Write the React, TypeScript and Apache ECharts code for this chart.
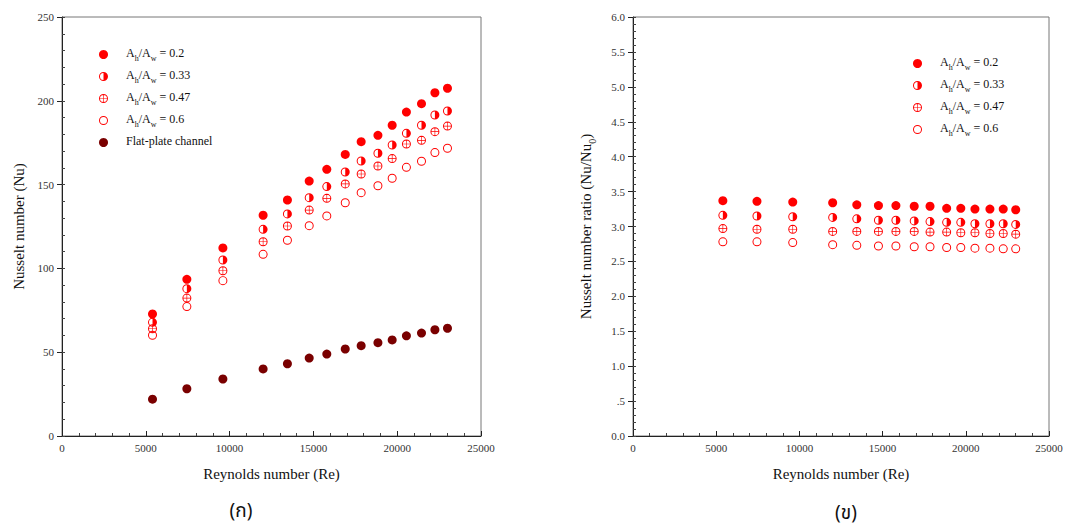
import React, { useEffect, useRef } from 'react';
import * as echarts from 'echarts';

// Reynolds numbers (shared by both panels)
const reynolds = [5400, 7450, 9600, 12000, 13450, 14750, 15800, 16900, 17850, 18850, 19700, 20550, 21450, 22250, 23000];

// Panel (ก): Nusselt number
const nu02 = [72.8, 93.5, 112.2, 131.7, 140.8, 152.1, 159.1, 168.0, 175.6, 179.4, 185.4, 193.3, 198.3, 204.8, 207.5];
const nu033 = [67.8, 87.9, 105.0, 123.3, 132.5, 142.2, 148.8, 157.5, 164.1, 168.7, 173.6, 180.6, 185.4, 191.5, 193.9];
const nu047 = [64.0, 82.3, 98.6, 115.9, 125.3, 134.8, 141.8, 150.4, 156.3, 161.1, 165.5, 174.2, 176.4, 181.6, 184.9];
const nu06 = [60.1, 77.2, 92.7, 108.4, 116.8, 125.5, 131.3, 139.2, 145.2, 149.3, 153.8, 160.3, 163.9, 169.1, 171.7];
const nuFlat = [22.0, 28.2, 34.0, 40.0, 43.1, 46.5, 48.9, 51.9, 53.9, 55.7, 57.3, 59.8, 61.4, 63.4, 64.3];

// Panel (ข): Nusselt number ratio
const r02 = [3.37, 3.36, 3.35, 3.34, 3.31, 3.30, 3.30, 3.29, 3.29, 3.26, 3.26, 3.25, 3.25, 3.25, 3.24];
const r033 = [3.16, 3.15, 3.14, 3.13, 3.11, 3.09, 3.09, 3.08, 3.07, 3.06, 3.06, 3.04, 3.04, 3.04, 3.03];
const r047 = [2.97, 2.96, 2.96, 2.93, 2.93, 2.93, 2.93, 2.93, 2.92, 2.92, 2.91, 2.91, 2.90, 2.90, 2.89];
const r06 = [2.78, 2.78, 2.77, 2.74, 2.73, 2.72, 2.72, 2.71, 2.71, 2.70, 2.70, 2.69, 2.69, 2.68, 2.68];

const ratios = ['0.2', '0.33', '0.47', '0.6'];
const flatName = 'Flat-plate channel';
const xName = 'Reynolds number (Re)';

const serif = 'Liberation Serif';
const thai = 'Noto Sans Thai, Noto Sans, DejaVu Sans, sans-serif';
const RED = '#ff0000';
const DARK = '#7a0000';

const OUTER = 'M0,10 A10,10 0 0,1 20,10 A10,10 0 0,1 0,10 Z ';
const INNER = 'M2.2,10 A7.8,7.8 0 0,0 17.8,10 A7.8,7.8 0 0,0 2.2,10 Z ';
const HALF = 'M10,2.2 A7.8,7.8 0 0,1 10,17.8 Z ';
const CROSS = 'M2.2,9.3 H17.8 V10.7 H2.2 Z M9.3,2.2 H10.7 V17.8 H9.3 Z';
const symbols = [
  'circle',
  'path://' + OUTER + INNER + HALF,
  'path://' + OUTER + INNER + CROSS,
  'path://' + OUTER + INNER,
];

const nameOf = (r: string) => 'Ah/Aw = ' + r;

const legendFormatter = (name: string) => {
  if (name === flatName) return `{a|${name}}`;
  const v = name.split('= ')[1];
  return `{a|A}{b|h}{a|/A}{b|w}{a| = ${v}}`;
};

const legendText = {
  fontFamily: serif,
  fontSize: 12,
  color: '#111',
  padding: [0, 0, 0, 13],
  rich: {
    a: { fontFamily: serif, fontSize: 12, color: '#111', padding: [0, 0, 3, 0], verticalAlign: 'bottom' },
    b: { fontFamily: serif, fontSize: 8, color: '#111', verticalAlign: 'bottom' },
  },
};

function makeX(gridIndex: number) {
  return {
    gridIndex,
    type: 'value',
    min: 0,
    max: 25000,
    interval: 5000,
    axisLine: { onZero: false, lineStyle: { color: '#222', width: 1 } },
    axisTick: { inside: true, length: 5, lineStyle: { color: '#222' } },
    minorTick: { show: true, splitNumber: 5, length: 3, lineStyle: { color: '#444' } },
    splitLine: { show: false },
    axisLabel: { fontFamily: serif, fontSize: 11, color: '#333', margin: 6, formatter: (v: number) => String(v) },
    name: xName,
    nameLocation: 'middle',
    nameGap: 30,
    nameTextStyle: { fontFamily: serif, fontSize: 15, color: '#111' },
  };
}

const option: any = {
  animation: false,
  backgroundColor: '#ffffff',
  textStyle: { fontFamily: serif },
  grid: [
    { left: 62, top: 17, width: 419, height: 419, show: true, borderColor: '#777', borderWidth: 1, backgroundColor: 'transparent' },
    { left: 633, top: 17, width: 416, height: 419, show: true, borderColor: '#777', borderWidth: 1, backgroundColor: 'transparent' },
  ],
  xAxis: [makeX(0), makeX(1)],
  yAxis: [
    {
      gridIndex: 0,
      type: 'value',
      position: 'left',
      min: 0,
      max: 250,
      interval: 50,
      axisLine: { show: true, lineStyle: { color: '#222' } },
      axisTick: { show: true, inside: false, length: 5, lineStyle: { color: '#222' } },
      splitLine: { show: false },
      axisLabel: { fontFamily: serif, fontSize: 11, color: '#333', margin: 8 },
      name: 'Nusselt number (Nu)',
      nameLocation: 'middle',
      nameGap: 36,
      nameTextStyle: { fontFamily: serif, fontSize: 15, color: '#111' },
    },
    {
      gridIndex: 0,
      type: 'value',
      position: 'left',
      min: 0,
      max: 250,
      interval: 10,
      axisLine: { show: false },
      axisTick: { show: true, inside: true, length: 3, lineStyle: { color: '#444' } },
      axisLabel: { show: false },
      splitLine: { show: false },
    },
    {
      gridIndex: 1,
      type: 'value',
      position: 'left',
      min: 0,
      max: 6,
      interval: 0.5,
      axisLine: { show: true, lineStyle: { color: '#222' } },
      axisTick: { show: true, inside: false, length: 5, lineStyle: { color: '#222' } },
      splitLine: { show: false },
      axisLabel: {
        fontFamily: serif,
        fontSize: 11,
        color: '#333',
        margin: 8,
        formatter: (v: number) => (Math.abs(v - 0.5) < 1e-9 ? '.5' : v.toFixed(1)),
      },
      name: '{m|Nusselt number ratio (Nu/Nu}{s|0}{m|)}',
      nameLocation: 'middle',
      nameGap: 36,
      nameTextStyle: {
        fontFamily: serif,
        fontSize: 15,
        color: '#111',
        rich: {
          m: { fontFamily: serif, fontSize: 15, color: '#111', padding: [0, 0, 4, 0], verticalAlign: 'bottom' },
          s: { fontFamily: serif, fontSize: 10, color: '#111', verticalAlign: 'bottom' },
        },
      },
    },
    {
      gridIndex: 1,
      type: 'value',
      position: 'left',
      min: 0,
      max: 6,
      interval: 0.1,
      axisLine: { show: false },
      axisTick: { show: true, inside: true, length: 3, lineStyle: { color: '#444' } },
      axisLabel: { show: false },
      splitLine: { show: false },
    },
  ],
  legend: [
    {
      orient: 'vertical',
      left: 94,
      top: 42,
      itemWidth: 9,
      itemHeight: 9,
      itemGap: 7,
      selectedMode: false,
      data: [...ratios.map(nameOf), flatName],
      formatter: legendFormatter,
      textStyle: legendText,
    },
    {
      orient: 'vertical',
      left: 908,
      top: 51,
      itemWidth: 9,
      itemHeight: 9,
      itemGap: 7,
      selectedMode: false,
      data: ratios.map(nameOf),
      formatter: legendFormatter,
      textStyle: legendText,
    },
  ],
  graphic: [
    {
      type: 'text',
      x: 241,
      y: 511,
      style: { text: '(ก)', align: 'center', verticalAlign: 'middle', fontSize: 19, fontFamily: thai, fill: '#111' },
    },
    {
      type: 'text',
      x: 846,
      y: 513,
      style: { text: '(ข)', align: 'center', verticalAlign: 'middle', fontSize: 19, fontFamily: thai, fill: '#111' },
    },
  ],
  series: [] as any[],
};

const leftSets = [nu02, nu033, nu047, nu06];
const rightSets = [r02, r033, r047, r06];

ratios.forEach((r, i) => {
  option.series.push({
    type: 'scatter',
    name: nameOf(r),
    xAxisIndex: 0,
    yAxisIndex: 0,
    symbol: symbols[i],
    symbolSize: 9,
    itemStyle: { color: RED, opacity: 1 },
    data: reynolds.map((x, k) => [x, leftSets[i][k]]),
  });
});
option.series.push({
  type: 'scatter',
  name: flatName,
  xAxisIndex: 0,
  yAxisIndex: 0,
  symbol: 'circle',
  symbolSize: 9,
  itemStyle: { color: DARK, opacity: 1 },
  data: reynolds.map((x, k) => [x, nuFlat[k]]),
});
ratios.forEach((r, i) => {
  option.series.push({
    type: 'scatter',
    name: nameOf(r),
    xAxisIndex: 1,
    yAxisIndex: 2,
    symbol: symbols[i],
    symbolSize: 9,
    itemStyle: { color: RED, opacity: 1 },
    data: reynolds.map((x, k) => [x, rightSets[i][k]]),
  });
});

export default function App() {
  const ref = useRef<HTMLDivElement>(null);
  useEffect(() => {
    const chart = echarts.init(ref.current as HTMLDivElement, null, { renderer: 'svg' });
    chart.setOption(option);
    return () => chart.dispose();
  }, []);
  return (
    <div
      ref={ref}
      style={{ position: 'fixed', left: 0, top: 0, width: 1068, height: 527, background: '#fff' }}
    />
  );
}
